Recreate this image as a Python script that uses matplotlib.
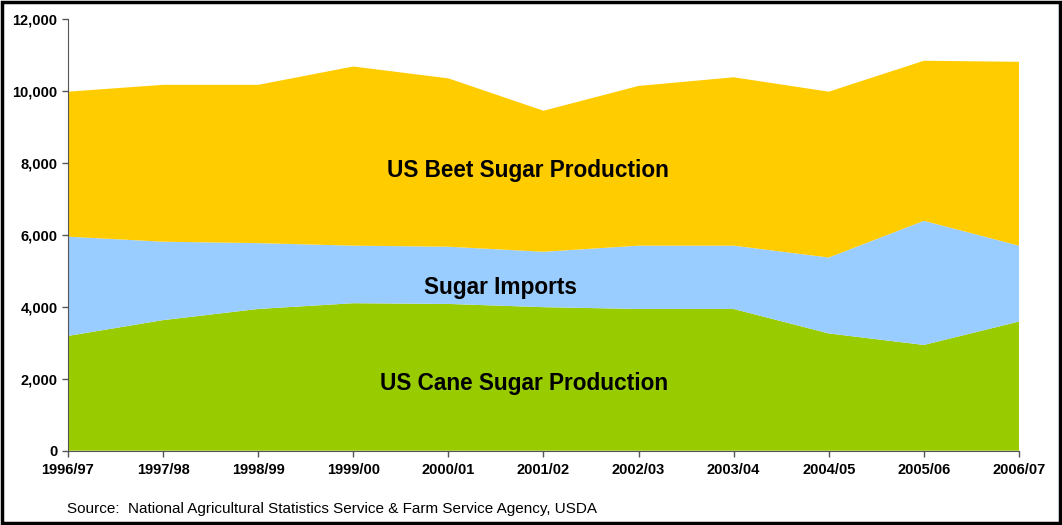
import matplotlib
matplotlib.use('Agg')
import matplotlib.pyplot as plt
from matplotlib.patches import Rectangle

# marketing years
years = ['1996/97', '1997/98', '1998/99', '1999/00', '2000/01', '2001/02',
         '2002/03', '2003/04', '2004/05', '2005/06', '2006/07']

# 1,000 short tons, raw value
cane = [3190, 3630, 3940, 4100, 4080, 3990, 3940, 3940, 3260, 2940, 3590]
imports = [2760, 2180, 1830, 1600, 1590, 1540, 1760, 1760, 2110, 3450, 2110]
beet = [4030, 4360, 4400, 4980, 4680, 3920, 4440, 4680, 4610, 4450, 5110]

plt.rcParams['font.family'] = ['Liberation Sans', 'DejaVu Sans']

fig = plt.figure(figsize=(10.62, 5.25), dpi=100)
ax = fig.add_axes([0.064, 0.1415, 0.8955, 0.8223])

x = range(len(years))
ax.stackplot(x, cane, imports, beet,
             colors=['#99CC00', '#99CCFF', '#FFCC00'], linewidth=0)

ax.set_xlim(0, len(years) - 1)
ax.set_ylim(0, 12000)
ax.set_xticks(list(x))
ax.set_xticklabels(years, fontsize=10.5, fontweight='bold')
ax.set_yticks(range(0, 12001, 2000))
ax.set_yticklabels(['{:,}'.format(v) for v in range(0, 12001, 2000)],
                   fontsize=10.5, fontweight='bold')
ax.tick_params(direction='out', length=4, color='#555555', width=1)
ax.tick_params(axis='x', pad=5)
for s in ['top', 'right']:
    ax.spines[s].set_visible(False)
for s in ['left', 'bottom']:
    ax.spines[s].set_color('#555555')

# labels in the areas
ax.text(4.84, 7800, 'US Beet Sugar Production', fontsize=16.3, fontweight='bold',
        ha='center', va='center')
ax.text(4.55, 4545, 'Sugar Imports', fontsize=16.3, fontweight='bold',
        ha='center', va='center')
ax.text(4.8, 1880, 'US Cane Sugar Production', fontsize=16.3, fontweight='bold',
        ha='center', va='center')

fig.text(0.063, 0.03, 'Source:  National Agricultural Statistics Service & Farm Service Agency, USDA',
         fontsize=11, ha='left', va='center')

# frame round the whole figure
fig.patches.append(Rectangle((0.002, 0.003), 0.996, 0.994, transform=fig.transFigure,
                             fill=False, edgecolor='black', linewidth=2.5))

plt.savefig('out.png', dpi=100)
